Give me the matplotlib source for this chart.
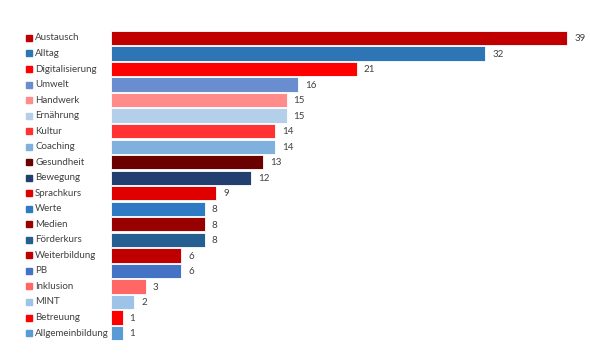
import matplotlib as mpl
from matplotlib import pyplot as plt
from matplotlib.transforms import blended_transform_factory

mpl.rcParams['font.family'] = ['Lato', 'DejaVu Sans']

categories = ["Austausch", "Alltag", "Digitalisierung", "Umwelt", "Handwerk",
              "Ernährung", "Kultur", "Coaching", "Gesundheit", "Bewegung",
              "Sprachkurs", "Werte", "Medien", "Förderkurs", "Weiterbildung",
              "PB", "Inklusion", "MINT", "Betreuung", "Allgemeinbildung"]
values = [39, 32, 21, 16, 15, 15, 14, 14, 13, 12, 9, 8, 8, 8, 6, 6, 3, 2, 1, 1]
colors = ["#C00000", "#2E75B6", "#FF0000", "#6A8DD0", "#FF8B8B",
          "#B4CFEA", "#FF3333", "#7FB0DE", "#6B0000", "#223F70",
          "#E00000", "#2E7BC4", "#990000", "#255E91", "#C00000",
          "#4472C4", "#FF6666", "#9DC3E6", "#FF0000", "#5B9BD5"]

fig = plt.figure(figsize=(5.9, 3.55), dpi=100)
ax = fig.add_axes([111 / 590, 0.04, 468 / 590, 0.875])

ypos = list(range(len(categories)))
ax.barh(ypos, values, height=0.92, color=colors, edgecolor="white", linewidth=0.6)
ax.set_xlim(0, 40)
ax.set_ylim(len(categories) - 0.5, -0.5)
ax.axis("off")

for y, v in zip(ypos, values):
    ax.annotate(str(v), (v, y), xytext=(5, -0.5), textcoords="offset points",
                va="center", ha="left", fontsize=7, color="#404040")

tr = blended_transform_factory(fig.transFigure, ax.transData)
for y, name, c in zip(ypos, categories, colors):
    ax.plot([29 / 590], [y], marker="s", markersize=4.2, color=c,
            transform=tr, clip_on=False)
    ax.text(35 / 590, y, name, transform=tr, va="center", ha="left",
            fontsize=7, color="#404040")

fig.savefig("out.png", dpi=100)
